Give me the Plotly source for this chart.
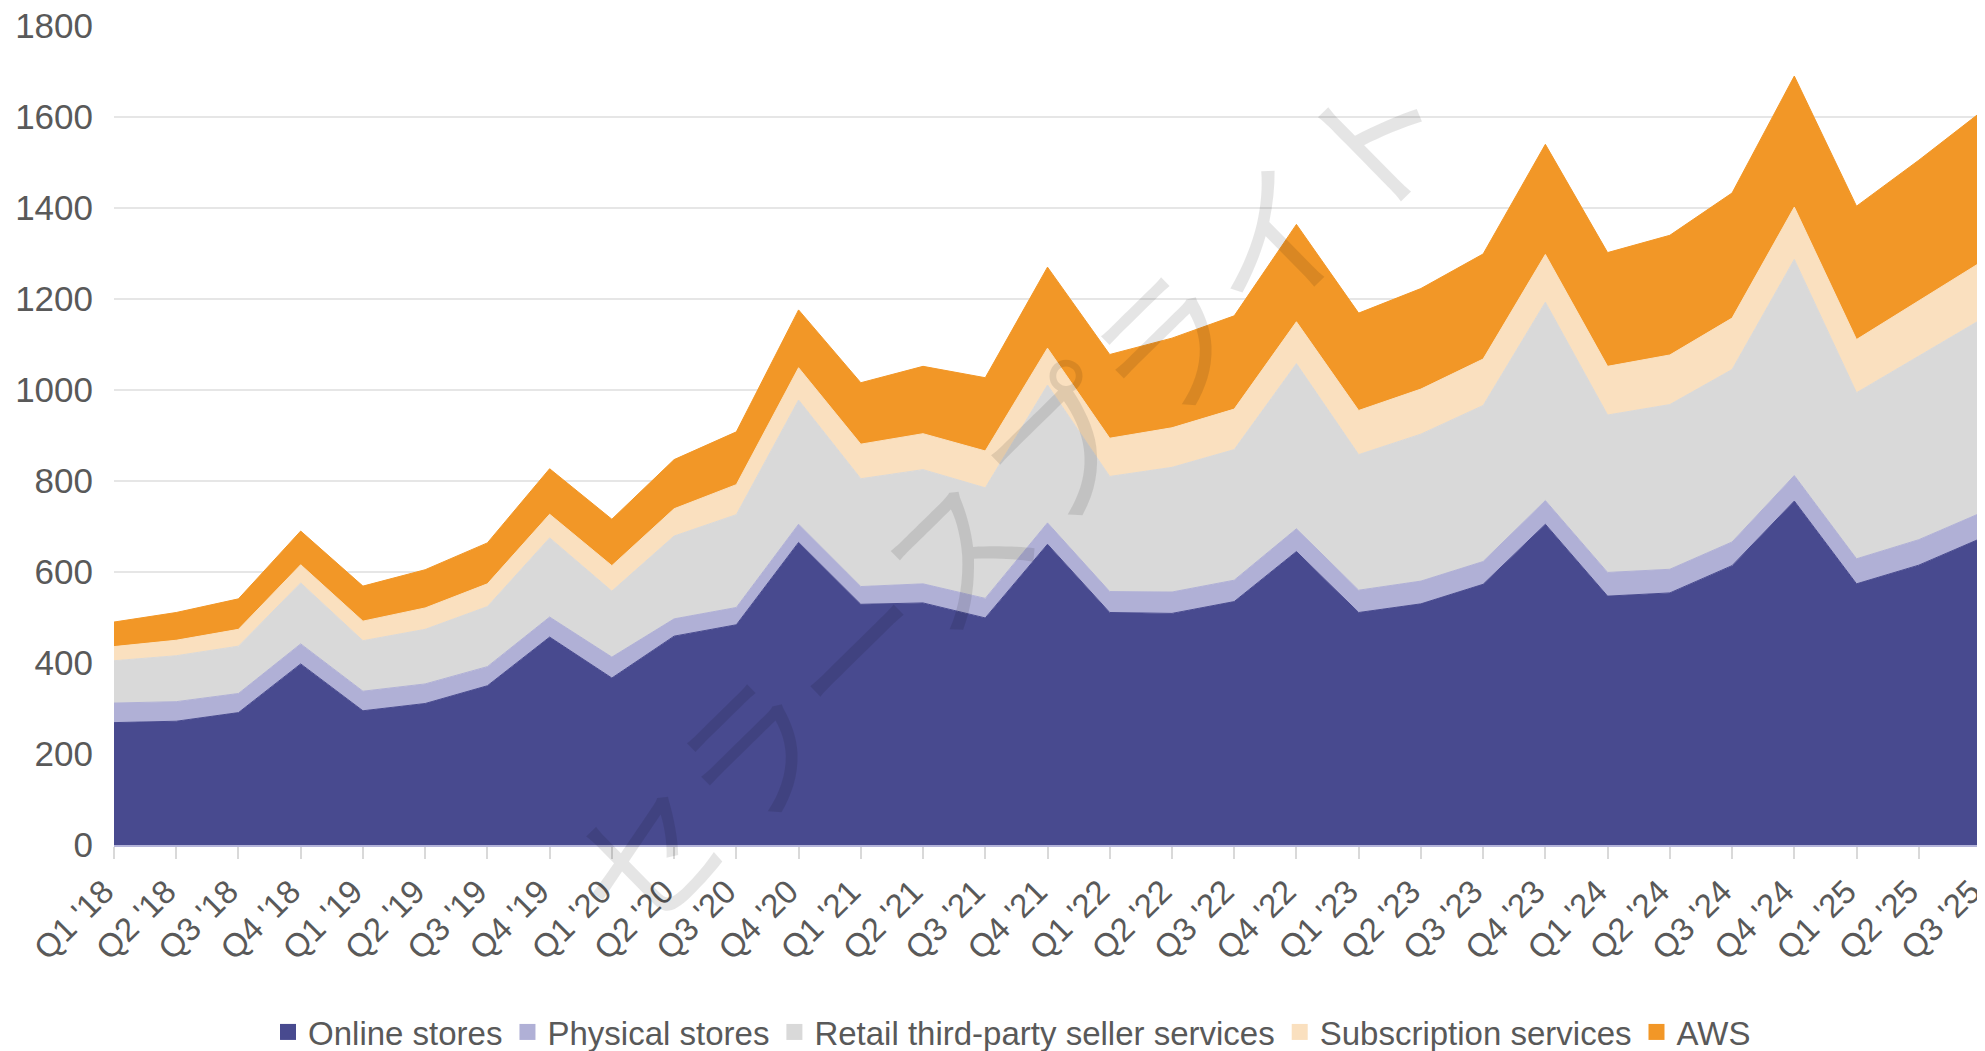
import plotly.graph_objects as go

quarters = ["Q1 '18", "Q2 '18", "Q3 '18", "Q4 '18",
            "Q1 '19", "Q2 '19", "Q3 '19", "Q4 '19",
            "Q1 '20", "Q2 '20", "Q3 '20", "Q4 '20",
            "Q1 '21", "Q2 '21", "Q3 '21", "Q4 '21",
            "Q1 '22", "Q2 '22", "Q3 '22", "Q4 '22",
            "Q1 '23", "Q2 '23", "Q3 '23", "Q4 '23",
            "Q1 '24", "Q2 '24", "Q3 '24", "Q4 '24",
            "Q1 '25", "Q2 '25", "Q3 '25"]

online_stores = [269, 272, 291, 398, 295, 311, 350, 457, 367, 459, 484, 665, 529, 532, 499, 661,
                 511, 509, 535, 645, 511, 530, 573, 705, 547, 554, 614, 756, 574, 615, 674]
physical_stores = [43, 43, 42, 44, 43, 43, 42, 44, 46, 38, 38, 40, 39, 42, 43, 47,
                   46, 47, 47, 50, 49, 50, 50, 52, 52, 52, 52, 56, 55, 56, 56]
third_party = [93, 101, 104, 134, 111, 120, 132, 174, 145, 182, 204, 273, 237, 251, 243, 303,
               253, 274, 287, 363, 298, 323, 343, 436, 346, 362, 379, 475, 365, 403, 425]
subscription = [31, 34, 37, 40, 43, 47, 50, 52, 56, 60, 66, 71, 76, 79, 81, 81,
                84, 87, 89, 92, 97, 99, 102, 105, 107, 109, 113, 115, 117, 122, 126]
aws = [54, 61, 67, 74, 77, 84, 90, 100, 102, 108, 116, 127, 135, 148, 161, 178,
       184, 197, 205, 214, 214, 221, 231, 242, 250, 263, 275, 288, 293, 309, 330]

series_names = ["Online stores", "Physical stores", "Retail third-party seller services",
                "Subscription services", "AWS"]
series_values = [online_stores, physical_stores, third_party, subscription, aws]
series_colors = ["#484a8f", "#b0b0d6", "#d9d9d9", "#fae0bf", "#f29727"]

y_ticks = [0, 200, 400, 600, 800, 1000, 1200, 1400, 1600, 1800]

FONT = "Liberation Sans, Arial, sans-serif"
TXT = "#595959"

fig = go.Figure()
for name, vals, color in zip(series_names, series_values, series_colors):
    fig.add_trace(go.Scatter(
        x=quarters, y=vals, name=name, stackgroup="one", mode="lines",
        line=dict(width=1, color=color), fillcolor=color, showlegend=False))
for name, color in zip(series_names, series_colors):
    fig.add_trace(go.Scatter(
        x=[None], y=[None], name=name, mode="markers",
        marker=dict(symbol="square", size=20, color=color), showlegend=True))

fig.add_annotation(
    text="セラースプライト", xref="paper", yref="paper", x=0.478, y=0.43,
    showarrow=False, textangle=-44.5,
    font=dict(size=147, family="Noto Sans CJK JP", color="rgba(0,0,0,0.1)"))

fig.update_layout(
    width=1977, height=1051,
    margin=dict(l=106, r=4, t=18, b=214, autoexpand=False),
    paper_bgcolor="white", plot_bgcolor="white",
    font=dict(family=FONT, size=33, color=TXT),
    xaxis=dict(type="category", range=[0, len(quarters) - 1], showgrid=False,
               ticks="outside", ticklen=12, tickwidth=2, tickcolor="#d9d9d9",
               tickangle=-45, tickfont=dict(size=33, color=TXT, family=FONT),
               ticklabelshift=-10, ticklabeloverflow="allow",
               showline=True, linecolor="#b3b3d9", linewidth=2, automargin=False),
    yaxis=dict(range=[0, 1800], tickvals=y_ticks, showgrid=True,
               gridcolor="#e6e6e6", gridwidth=2, zeroline=False, showline=False,
               tickfont=dict(size=35, color=TXT, family=FONT), ticklabelstandoff=20,
               ticklabeloverflow="allow", automargin=False),
    legend=dict(orientation="h", xref="paper", yref="paper", traceorder="normal",
                x=0.481, xanchor="center", y=-0.2283, yanchor="middle",
                font=dict(size=33, color=TXT, family=FONT), itemwidth=30,
                bgcolor="rgba(0,0,0,0)"),
    showlegend=True,
)

fig.write_html("out.html")
